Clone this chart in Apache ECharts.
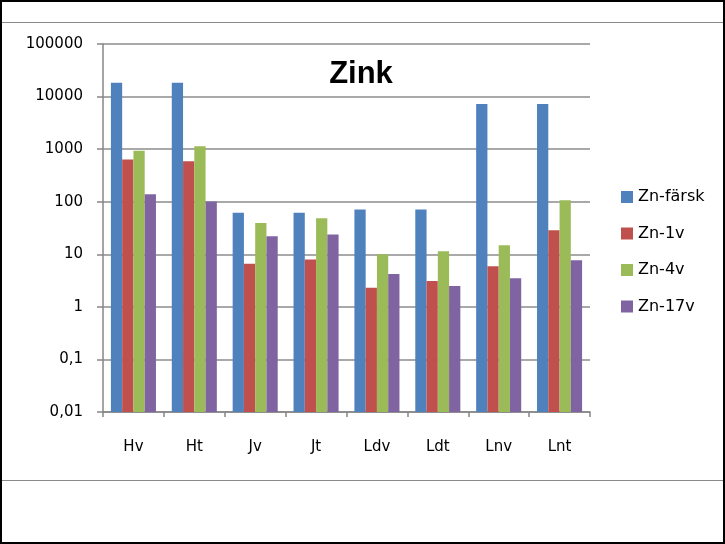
<!DOCTYPE html>
<html>
<head>
<meta charset="utf-8">
<script src="https://cdn.jsdelivr.net/npm/echarts@6/dist/echarts.min.js"></script>
<style>
  html, body { margin: 0; padding: 0; background: #fff; }
  #wrap { position: relative; width: 725px; height: 544px; box-sizing: border-box; border: 2px solid #000; overflow: hidden; }
  #chart { position: absolute; left: -2px; top: -2px; width: 725px; height: 544px; }
  .hline { position: absolute; left: 0; width: 100%; height: 0; border-top: 1.5px solid #8a8a8a; }
</style>
</head>
<body>
<div id="wrap">
  <div class="hline" style="top:20px"></div>
  <div class="hline" style="top:478px"></div>
  <div id="chart"></div>
</div>
<script>
const categories = ['Hv', 'Ht', 'Jv', 'Jt', 'Ldv', 'Ldt', 'Lnv', 'Lnt'];
const seriesNames = ['Zn-färsk', 'Zn-1v', 'Zn-4v', 'Zn-17v'];
const znFarsk = [18300, 18300, 62, 62, 71, 71, 7200, 7200];
const zn1v    = [636, 591, 6.6, 8.0, 2.3, 3.1, 5.9, 28.6];
const zn4v    = [929, 1140, 39.5, 48.5, 10, 11.4, 14.8, 107];
const zn17v   = [139, 101, 22, 23.7, 4.2, 2.5, 3.5, 7.7];
const tickLabels = {'0.01': '0,01', '0.1': '0,1', '1': '1', '10': '10', '100': '100', '1000': '1000', '10000': '10000', '100000': '100000'};
const colors = ['#4F81BD', '#C0504D', '#9BBB59', '#8064A2'];

const chart = echarts.init(document.getElementById('chart'), null, { renderer: 'canvas' });
const allValues = [znFarsk, zn1v, zn4v, zn17v];
const baseFont = 'DejaVu Sans';

chart.setOption({
  animation: false,
  color: colors,
  title: {
    text: 'Zink',
    left: 356, top: 54, textAlign: 'center',
    textStyle: { fontFamily: 'Liberation Sans', fontWeight: 'bold', fontSize: 31, color: '#000' }
  },
  legend: {
    orient: 'vertical',
    left: 616, top: 184,
    itemWidth: 12, itemHeight: 12, itemGap: 20.5,
    icon: 'rect',
    textStyle: { fontFamily: baseFont, fontSize: 16, lineHeight: 16, color: '#000' },
    data: seriesNames
  },
  grid: { left: 103, right: 135, top: 44, bottom: 132, containLabel: false },
  xAxis: {
    type: 'category',
    data: categories,
    axisLine: { show: true, lineStyle: { color: '#868686', width: 1.5 } },
    axisTick: { show: true, length: 5, alignWithLabel: false, lineStyle: { color: '#868686', width: 1.5 } },
    axisLabel: { margin: 28, fontFamily: baseFont, fontSize: 15, color: '#000' },
    splitLine: { show: false }
  },
  yAxis: {
    type: 'log',
    logBase: 10,
    min: 0.01,
    max: 100000,
    startValue: 0.01,
    axisLine: { show: true, lineStyle: { color: '#868686', width: 1.5 } },
    axisTick: { show: true, length: 6, lineStyle: { color: '#868686', width: 1.5 } },
    axisLabel: {
      margin: 20, fontFamily: baseFont, fontSize: 15, color: '#000',
      formatter: function (v) {
        const key = String(parseFloat(v.toPrecision(6)));
        return tickLabels[key] !== undefined ? tickLabels[key] : key;
      }
    },
    splitLine: { show: true, lineStyle: { color: '#8c8c8c', width: 1.5 } }
  },
  series: seriesNames.map(function (name, i) {
    return {
      name: name,
      type: 'bar',
      data: allValues[i],
      barGap: '0%',
      barCategoryGap: '26%',
      itemStyle: { color: colors[i] }
    };
  })
});
</script>
</body>
</html>
